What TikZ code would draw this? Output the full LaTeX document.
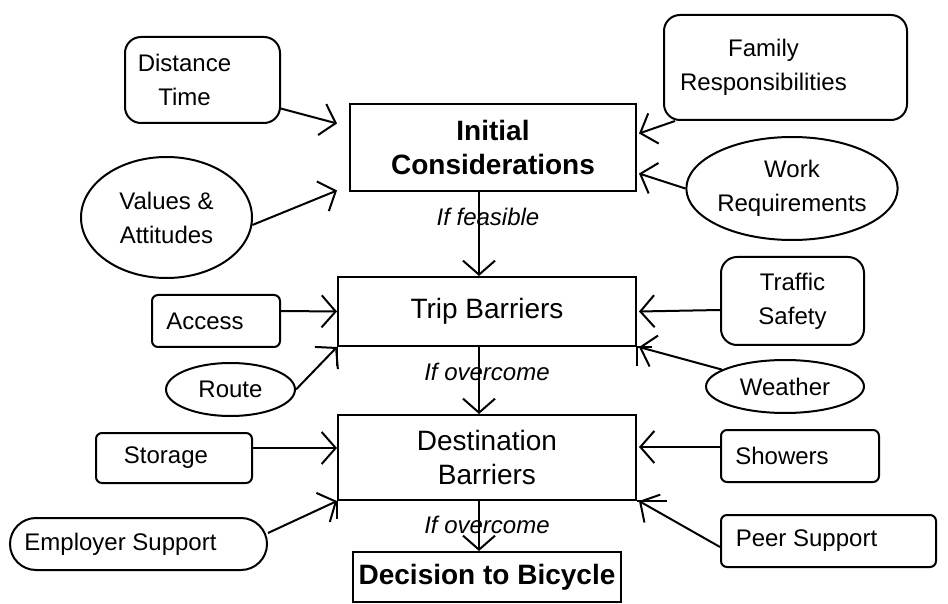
\documentclass[tikz,border=0pt]{standalone}
\usepackage{fontspec}
\setmainfont{Liberation Sans}
\usetikzlibrary{arrows.meta}
\usetikzlibrary{calc}
\usetikzlibrary{shapes.geometric}

\begin{document}
\begin{tikzpicture}
	[x=0.5pt,y=-0.5pt,line width=1pt,>={Straight Barb[length=7pt,width=16pt]},
	every node/.style={font=\fontsize{12}{17}\selectfont,align=center,inner sep=0pt},
	mainbox/.style={draw,rectangle,font=\fontsize{14}{17}\selectfont},
	factor/.style={draw,rectangle,rounded corners=3pt},
	roundbox/.style={draw,rectangle,rounded corners=8pt},
	oval/.style={draw,ellipse},
	cond/.style={font=\fontsize{12}{17}\selectfont\itshape}]
	\useasboundingbox (0,0) rectangle (948,604);
	% central column
	\node[mainbox,minimum width=143pt,minimum height=43.5pt,font=\fontsize{14}{17}\selectfont\bfseries] (init) at (493,147.5) {Initial\\Considerations};
	\node[mainbox,minimum width=149pt,minimum height=34.5pt] (trip) at (487,311.5) {Trip Barriers};
	\node[mainbox,minimum width=149pt,minimum height=42.5pt] (dest) at (487,457.5) {Destination\\Barriers};
	\node[mainbox,minimum width=134pt,minimum height=25pt,font=\fontsize{14}{17}\selectfont\bfseries] (decision) at (487,577) {Decision to Bicycle};
	% influences on the left
	\node[roundbox,minimum width=77.5pt,minimum height=43pt] (dist) at (202.5,80) {Distance\hspace*{18pt}\\Time\hspace*{18pt}};
	\node[oval,minimum width=85.5pt,minimum height=60.5pt] (values) at (166.5,217.5) {Values \&\\Attitudes};
	\node[factor,minimum width=64pt,minimum height=26pt] (access) at (216,321) {Access\hspace*{11pt}};
	\node[oval,minimum width=64.5pt,minimum height=26.5pt] (route) at (230.5,389.5) {Route};
	\node[factor,minimum width=78pt,minimum height=25pt] (storage) at (174,458) {Storage\hspace*{8pt}};
	\node[draw,rectangle,rounded corners=13pt,minimum width=128.5pt,minimum height=26pt] (employer) at (138.5,544) {Employer Support\hspace*{18pt}};
	% influences on the right
	\node[roundbox,minimum width=121.5pt,minimum height=52.5pt] (family) at (785.5,67.5) {Family\hspace*{22pt}\\Responsibilities\hspace*{22pt}};
	\node[oval,minimum width=100pt,minimum height=51.5pt] (work) at (792,188.5) {Work\\Requirements};
	\node[roundbox,minimum width=71.5pt,minimum height=44pt] (traffic) at (792.5,301) {Traffic\\Safety};
	\node[oval,minimum width=79pt,minimum height=26.5pt] (weather) at (785,386.5) {Weather};
	\node[factor,minimum width=79pt,minimum height=26pt] (showers) at (800,456) {Showers\hspace*{18pt}};
	\node[factor,minimum width=107.5pt,minimum height=26pt] (peer) at (828.5,541) {Peer Support\hspace*{22pt}};
	% conditions
	\node[cond] (feas) at (488,217) {If feasible};
	\node[cond] (over1) at (487,372) {If overcome};
	\node[cond] (over2) at (487,525) {If overcome};
	% arrows
	\draw[->] (dist.-20) -- ($(init.west)+(-12,-24)$);
	\draw[->] (values.-5) -- ($(init.west)+(-12,43)$);
	\draw[->] ($(family.south west)+(12,0)$) -- ($(init.east)+(2,-14)$);
	\draw[->] (work.west) -- ($(init.east)+(2,26)$);
	\draw[->] ($(init.south)+(-14,0)$) -- ($(trip.north)+(-8,0)$);
	\draw[->] ($(access.east)+(0,-10)$) -- (trip.west);
	\draw[->] (route.east) -- (trip.south west);
	\draw[->] ($(traffic.west)+(0,9)$) -- ($(trip.east)+(2,0)$);
	\draw[->] (weather.165) -- ($(trip.south east)+(2,0)$);
	\draw[->] ($(trip.south)+(-8,0)$) -- ($(dest.north)+(-8,0)$);
	\draw[->] ($(storage.east)+(0,-10)$) -- ($(dest.west)+(0,-9.5)$);
	\draw[->] ($(employer.east)+(0,-11)$) -- (dest.south west);
	\draw[->] ($(showers.west)+(0,-9)$) -- ($(dest.east)+(2,-10.5)$);
	\draw[->] ($(peer.west)+(0,6)$) -- ($(dest.south east)+(2,0)$);
	\draw[->] ($(dest.south)+(-8,0)$) -- ($(decision.north)+(-8,0)$);
	% overshooting box edges
	\draw (trip.south west) -- ++(0,19);
	\draw (trip.south east) -- ++(0,19);
	\draw (trip.south east) -- ++(15,0);
	\draw (dest.south west) -- ++(0,18);
	\draw (dest.south east) -- ++(30,0);
\end{tikzpicture}
\end{document}
